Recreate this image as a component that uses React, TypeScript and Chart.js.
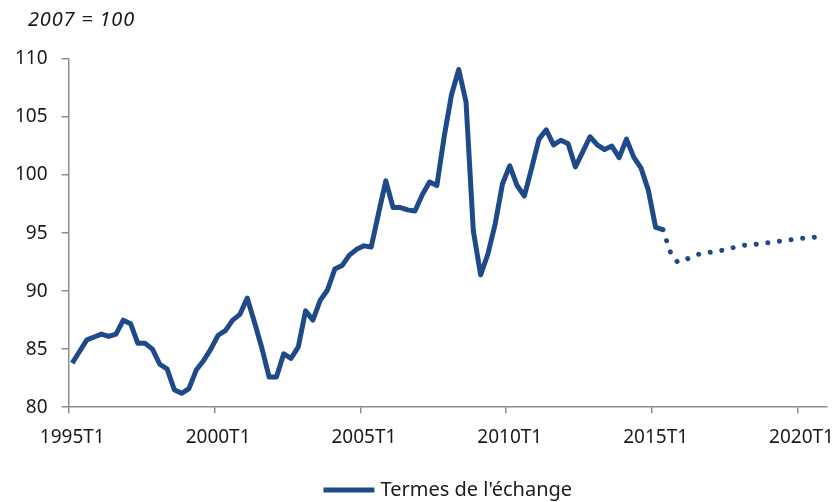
import React, { useEffect, useRef } from 'react';
import { Chart, registerables } from 'chart.js';

Chart.register(...registerables);

// Quarterly categories 1995T1 .. 2020T4
const years: number[] = [1995, 1996, 1997, 1998, 1999, 2000, 2001, 2002, 2003, 2004, 2005, 2006, 2007, 2008, 2009, 2010, 2011, 2012, 2013, 2014, 2015, 2016, 2017, 2018, 2019, 2020];
const quarterNames: string[] = ['T1', 'T2', 'T3', 'T4'];
const categories: string[] = years.flatMap((y) => quarterNames.map((q) => `${y}${q}`));

const tickLabels: string[] = ['1995T1', '2000T1', '2005T1', '2010T1', '2015T1', '2020T1'];

const seriesName = "Termes de l'échange";
const unitLabel = '2007 = 100';

// Observed terms of trade (1995T1 .. 2015T2)
const observed: number[] = [
  83.8, 84.8, 85.8, 86.05, 86.3, 86.1, 86.3, 87.5, 87.2, 85.5,
  85.5, 85.0, 83.7, 83.3, 81.5, 81.2, 81.6, 83.2, 84.0, 85.0,
  86.2, 86.6, 87.5, 88.0, 89.4, 87.3, 85.1, 82.6, 82.6, 84.6,
  84.2, 85.2, 88.3, 87.5, 89.2, 90.1, 91.9, 92.2, 93.1, 93.6,
  93.9, 93.8, 96.7, 99.5, 97.2, 97.2, 97.0, 96.9, 98.3, 99.4,
  99.1, 103.3, 106.9, 109.1, 106.3, 95.2, 91.4, 93.2, 95.8, 99.25,
  100.8, 99.1, 98.2, 100.6, 103.1, 103.9, 102.6, 103.0, 102.7, 100.7,
  102.0, 103.3, 102.6, 102.2, 102.5, 101.5, 103.1, 101.55, 100.6, 98.7,
  95.5, 95.3,
];

// Projection (2015T2 .. 2020T4)
const projectionStart = 81;
const projectionValues: number[] = [
  95.3, 93.4, 92.5, 92.7, 92.95, 93.2, 93.3, 93.4, 93.5, 93.65,
  93.8, 93.95, 94.0, 94.05, 94.15, 94.2, 94.3, 94.4, 94.45, 94.55,
  94.6, 94.65, 94.7,
];

const LINE_COLOR = '#1f4a89';
const AXIS_COLOR = '#8c8c8c';
const TEXT_COLOR = '#1a1a1a';
const FONT_FAMILY = "'Noto Sans', 'Open Sans', sans-serif";

export default function App() {
  const ref = useRef<HTMLCanvasElement>(null);

  useEffect(() => {
    if (!ref.current) return;
    const projection: (number | null)[] = categories.map((_, i) =>
      i >= projectionStart && i - projectionStart < projectionValues.length ? projectionValues[i - projectionStart] : null
    );

    const decorPlugin = {
      id: 'decor',
      afterDraw(chart: any) {
        const ctx = chart.ctx;
        const area = chart.chartArea;
        ctx.save();
        // unit label
        ctx.font = `italic 20px ${FONT_FAMILY}`;
        (ctx as any).letterSpacing = '0.8px';
        ctx.fillStyle = TEXT_COLOR;
        ctx.textAlign = 'left';
        ctx.textBaseline = 'alphabetic';
        ctx.fillText(unitLabel, 28, 26);
        (ctx as any).letterSpacing = '0px';
        // legend
        ctx.font = `20px ${FONT_FAMILY}`;
        const tw = ctx.measureText(seriesName).width;
        const sample = 51;
        const gap = 6;
        const total = sample + gap + tw;
        const x0 = (area.left + area.right) / 2 - total / 2;
        const yc = 490;
        ctx.strokeStyle = LINE_COLOR;
        ctx.lineWidth = 5;
        ctx.lineCap = 'butt';
        ctx.beginPath();
        ctx.moveTo(x0, yc);
        ctx.lineTo(x0 + sample, yc);
        ctx.stroke();
        ctx.textBaseline = 'middle';
        ctx.fillText(seriesName, x0 + sample + gap, yc);
        ctx.restore();
      },
    };

    const chart = new Chart(ref.current, {
      type: 'line',
      data: {
        labels: categories,
        datasets: [
          {
            label: seriesName,
            data: observed,
            borderColor: LINE_COLOR,
            backgroundColor: LINE_COLOR,
            borderWidth: 5,
            pointRadius: 0,
            tension: 0,
            borderJoinStyle: 'round',
            borderCapStyle: 'butt',
          },
          {
            label: 'Projection',
            data: projection,
            borderColor: LINE_COLOR,
            backgroundColor: LINE_COLOR,
            borderWidth: 5,
            pointRadius: 0,
            tension: 0,
            borderDash: [0.01, 11.7],
            borderCapStyle: 'round',
          },
        ],
      },
      options: {
        animation: false,
        responsive: false,
        layout: { padding: { left: 1, right: 12, top: 59, bottom: 40 } },
        plugins: {
          tooltip: { enabled: false },
          legend: { display: false },
        },
        scales: {
          x: {
            type: 'category',
            offset: true,
            grid: {
              offset: true,
              drawOnChartArea: false,
              drawTicks: true,
              tickLength: 6,
              lineWidth: 1.5,
              tickColor: (ctx: any) => (ctx.index % 20 === 0 && ctx.index < categories.length ? AXIS_COLOR : 'rgba(0,0,0,0)'),
            },
            border: { display: true, color: AXIS_COLOR, width: 1.5 },
            ticks: {
              autoSkip: false,
              maxRotation: 0,
              minRotation: 0,
              padding: 13,
              color: TEXT_COLOR,
              font: { family: FONT_FAMILY, size: 19 },
              callback: (_v: any, i: number) => {
                const lab = categories[i];
                return tickLabels.includes(lab) ? lab : '';
              },
            },
          },
          y: {
            min: 80,
            max: 110,
            ticks: {
              stepSize: 5,
              padding: 14,
              color: TEXT_COLOR,
              font: { family: FONT_FAMILY, size: 19 },
            },
            grid: {
              drawOnChartArea: false,
              drawTicks: true,
              tickLength: 7,
              lineWidth: 1.5,
              tickColor: AXIS_COLOR,
            },
            border: { display: true, color: AXIS_COLOR, width: 1.5 },
          },
        },
      },
      plugins: [decorPlugin],
    } as any);

    return () => chart.destroy();
  }, []);

  return (
    <div style={{ position: 'absolute', left: 0, top: 0, width: 839, height: 502, background: '#fff' }}>
      <canvas ref={ref} width={839} height={502} style={{ display: 'block' }} />
    </div>
  );
}
